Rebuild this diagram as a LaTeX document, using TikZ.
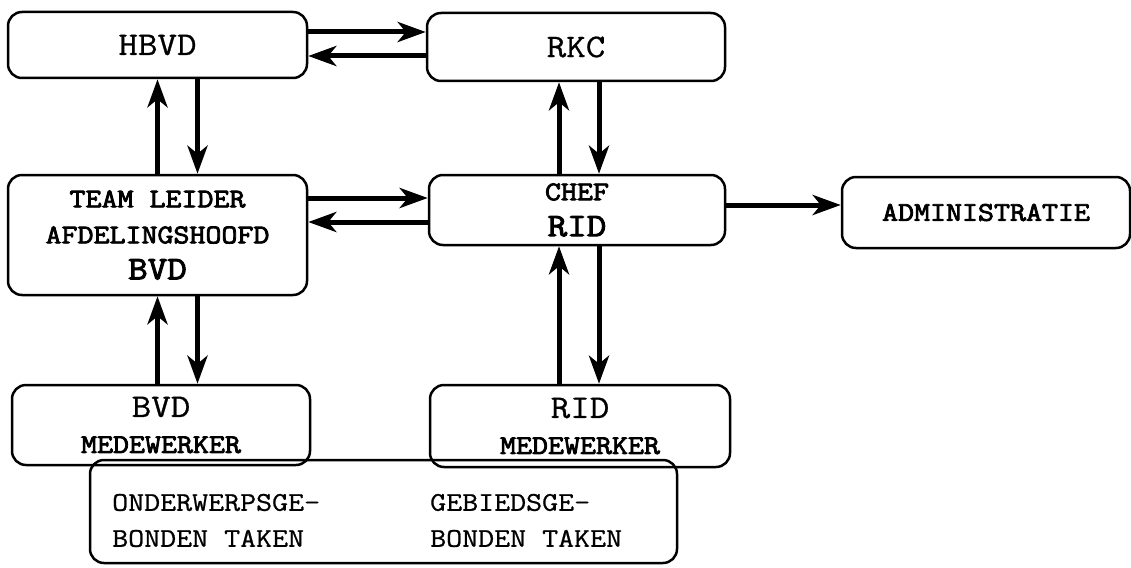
\documentclass[tikz,border=0pt]{standalone}
\usepackage{fontspec}
\newfontfamily\typer[FakeStretch=1.15, FakeBold=0.8, BoldFont={Latin Modern Mono}, BoldFeatures={FakeBold=3}]{Latin Modern Mono}
\usetikzlibrary{arrows.meta}
\newcommand\namesize{\fontsize{33}{36}\selectfont}
\newcommand\lblsize{\fontsize{27}{36}\selectfont}
\begin{document}
\begin{tikzpicture}[x=1pt, y=-1pt,
    box/.style={draw, line width=2.5pt, rounded corners=14pt, font=\typer\lblsize, align=center, inner sep=0pt},
    flow/.style={line width=5pt, -{Stealth[length=28pt, width=20pt, inset=8pt]}}]
    \useasboundingbox (0, 0) rectangle (1131, 567);
    \node[box, minimum width=299pt, minimum height=66pt] (hbvd) at (157.5, 45) {\namesize HBVD};
    \node[box, minimum width=298pt, minimum height=68pt] (rkc) at (576, 47) {\namesize RKC};
    \node[box, minimum width=299pt, minimum height=120pt] (team) at (157.5, 235) {\bfseries TEAM LEIDER\\\bfseries AFDELINGSHOOFD\\\bfseries\namesize BVD};
    \node[box, minimum width=296pt, minimum height=70pt] (chef) at (577, 210) {\bfseries CHEF\\\bfseries\namesize RID};
    \node[box, minimum width=288pt, minimum height=71pt] (admin) at (986, 212.5) {\bfseries ADMINISTRATIE};
    \node[box, minimum width=298pt, minimum height=80pt] (bvdm) at (161, 425) {\namesize BVD\\\bfseries\lblsize MEDEWERKER};
    \node[box, minimum width=300pt, minimum height=82pt] (ridm) at (580, 426) {\namesize RID\\\bfseries\lblsize MEDEWERKER};
    \node[box, minimum width=587pt, minimum height=103pt] (taken) at (383.5, 511.5) {};
    \node[anchor=west, align=left, inner sep=0pt, font=\typer\lblsize] (onderwerp) at (112, 520.5) {ONDERWERPSGE-\\BONDEN TAKEN};
    \node[anchor=west, align=left, inner sep=0pt, font=\typer\lblsize] (gebied) at (430, 520.5) {GEBIEDSGE-\\BONDEN TAKEN};
    \draw[flow] ([yshift=13pt]hbvd.east) -- ([yshift=13pt]hbvd.east -| rkc.west);
    \draw[flow] ([yshift=-11pt]hbvd.east -| rkc.west) -- ([yshift=-11pt]hbvd.east);
    \draw[flow] (team.north) -- (hbvd.south);
    \draw[flow] ([xshift=40pt]hbvd.south) -- ([xshift=40pt]team.north);
    \draw[flow] ([xshift=-18pt]chef.north) -- ([xshift=-18pt]chef.north |- rkc.south);
    \draw[flow] ([xshift=22pt]chef.north |- rkc.south) -- ([xshift=22pt]chef.north);
    \draw[flow] ([yshift=12pt]chef.west -| team.east) -- ([yshift=12pt]chef.west);
    \draw[flow] ([yshift=-12pt]chef.west) -- ([yshift=-12pt]chef.west -| team.east);
    \draw[flow] ([yshift=5pt]chef.east) -- ([yshift=5pt]chef.east -| admin.west);
    \draw[flow] (team.south |- bvdm.north) -- (team.south);
    \draw[flow] ([xshift=40pt]team.south) -- ([xshift=40pt]team.south |- bvdm.north);
    \draw[flow] ([xshift=-18pt]chef.south |- ridm.north) -- ([xshift=-18pt]chef.south);
    \draw[flow] ([xshift=22pt]chef.south) -- ([xshift=22pt]chef.south |- ridm.north);
\end{tikzpicture}
\end{document}
